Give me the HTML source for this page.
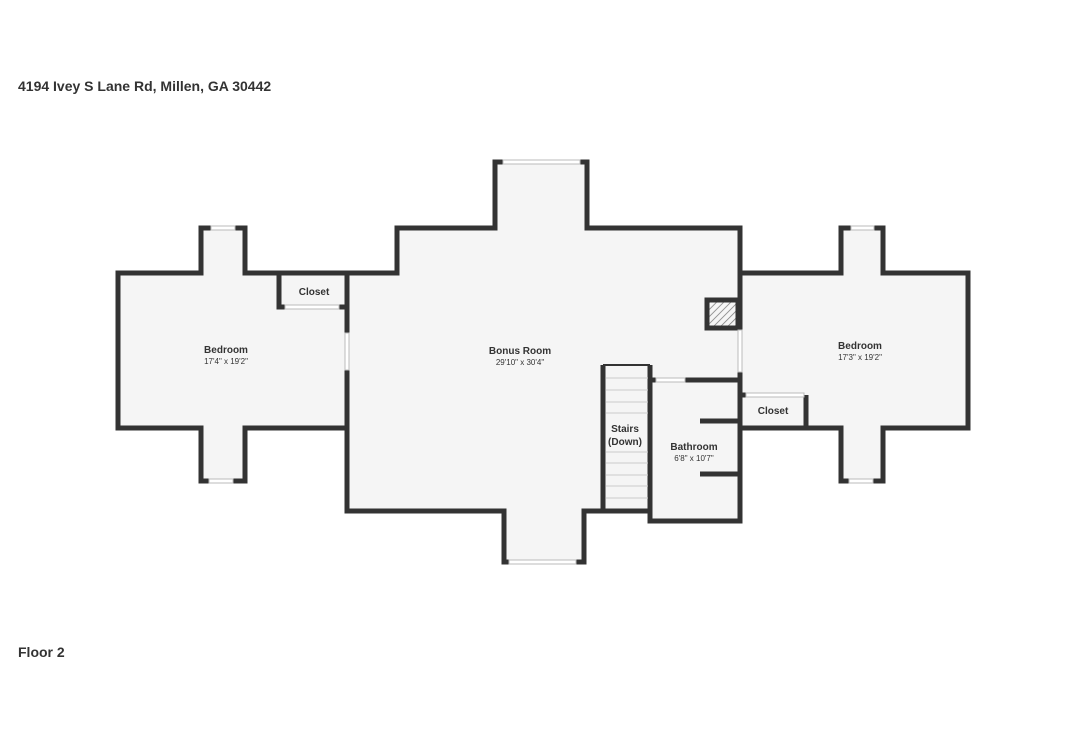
<!DOCTYPE html><html><head><style>body{margin:0;background:#fff;width:1086px;height:724px;overflow:hidden;font-family:"Liberation Sans",sans-serif}</style></head><body>
<svg width="1086" height="724" viewBox="0 0 1086 724" font-family="Liberation Sans, sans-serif">
<defs><pattern id="h" width="5" height="5" patternUnits="userSpaceOnUse" patternTransform="rotate(45)"><line x1="0" y1="0" x2="0" y2="5" stroke="#777" stroke-width="1.5"/></pattern></defs>
<text x="18" y="91" font-size="14" font-weight="bold" fill="#333">4194 Ivey S Lane Rd, Millen, GA 30442</text>
<text x="18" y="657" font-size="14" font-weight="bold" fill="#333">Floor 2</text>
<polygon points="118,273 201,273 201,228 245,228 245,273 397,273 397,228 495,228 495,162 587,162 587,228 740,228 740,273 841,273 841,228 883,228 883,273 968,273 968,428 883,428 883,481 841,481 841,428 740,428 740,521 650,521 650,511 584,511 584,562 504,562 504,511 347,511 347,428 245,428 245,481 201,481 201,428 118,428" fill="#f5f5f5" stroke="#333" stroke-width="5"/>
<g stroke="#333" stroke-width="5" fill="none">
<line x1="347" y1="273" x2="347" y2="333"/><line x1="347" y1="370" x2="347" y2="428"/>
<polyline points="279,273 279,307 285,307"/><line x1="339" y1="307" x2="347" y2="307"/>
<line x1="740" y1="273" x2="740" y2="330"/><line x1="740" y1="372" x2="740" y2="428"/>
<rect x="707" y="300" width="31" height="28" fill="url(#h)"/>
<line x1="650" y1="380" x2="656" y2="380"/><line x1="685" y1="380" x2="740" y2="380"/>
<line x1="650" y1="365" x2="650" y2="521"/>
<line x1="603" y1="365" x2="603" y2="511"/>
<line x1="806" y1="395" x2="806" y2="428"/><line x1="740" y1="395" x2="746" y2="395"/>
<line x1="700" y1="421" x2="740" y2="421"/><line x1="700" y1="474" x2="740" y2="474"/>
</g>
<line x1="603" y1="365" x2="650" y2="365" stroke="#333" stroke-width="2"/>
<g stroke="#ccc" stroke-width="1">
<line x1="606" y1="378" x2="648" y2="378"/><line x1="606" y1="390" x2="648" y2="390"/><line x1="606" y1="402" x2="648" y2="402"/><line x1="606" y1="413" x2="648" y2="413"/><line x1="606" y1="452" x2="648" y2="452"/><line x1="606" y1="463" x2="648" y2="463"/><line x1="606" y1="475" x2="648" y2="475"/><line x1="606" y1="486" x2="648" y2="486"/><line x1="606" y1="498" x2="648" y2="498"/>
</g>
<g fill="#fff" stroke="#bbb" stroke-width="1">
<rect x="285" y="305" width="54" height="4"/><rect x="345" y="333" width="4" height="37"/><rect x="738" y="330" width="4" height="42"/><rect x="656" y="378" width="29" height="4"/><rect x="746" y="393" width="58" height="4"/>
<rect x="211" y="226" width="24" height="4"/><rect x="209" y="479" width="24" height="4"/><rect x="851" y="226" width="23" height="4"/><rect x="849" y="479" width="24" height="4"/>
<rect x="503" y="160" width="77" height="4"/><rect x="509" y="560" width="67" height="4"/>
</g>
<g fill="#333" font-weight="bold" text-anchor="middle">
<text x="314" y="295" font-size="10">Closet</text>
<text x="226" y="353" font-size="10">Bedroom</text><text x="226" y="364" font-size="8" font-weight="normal">17'4" x 19'2"</text>
<text x="520" y="354" font-size="10">Bonus Room</text><text x="520" y="365" font-size="8" font-weight="normal">29'10" x 30'4"</text>
<text x="860" y="349" font-size="10">Bedroom</text><text x="860" y="360" font-size="8" font-weight="normal">17'3" x 19'2"</text>
<text x="625" y="432" font-size="10">Stairs</text><text x="625" y="445" font-size="10">(Down)</text>
<text x="694" y="450" font-size="10">Bathroom</text><text x="694" y="461" font-size="8" font-weight="normal">6'8" x 10'7"</text>
<text x="773" y="414" font-size="10">Closet</text>
</g>
</svg></body></html>
